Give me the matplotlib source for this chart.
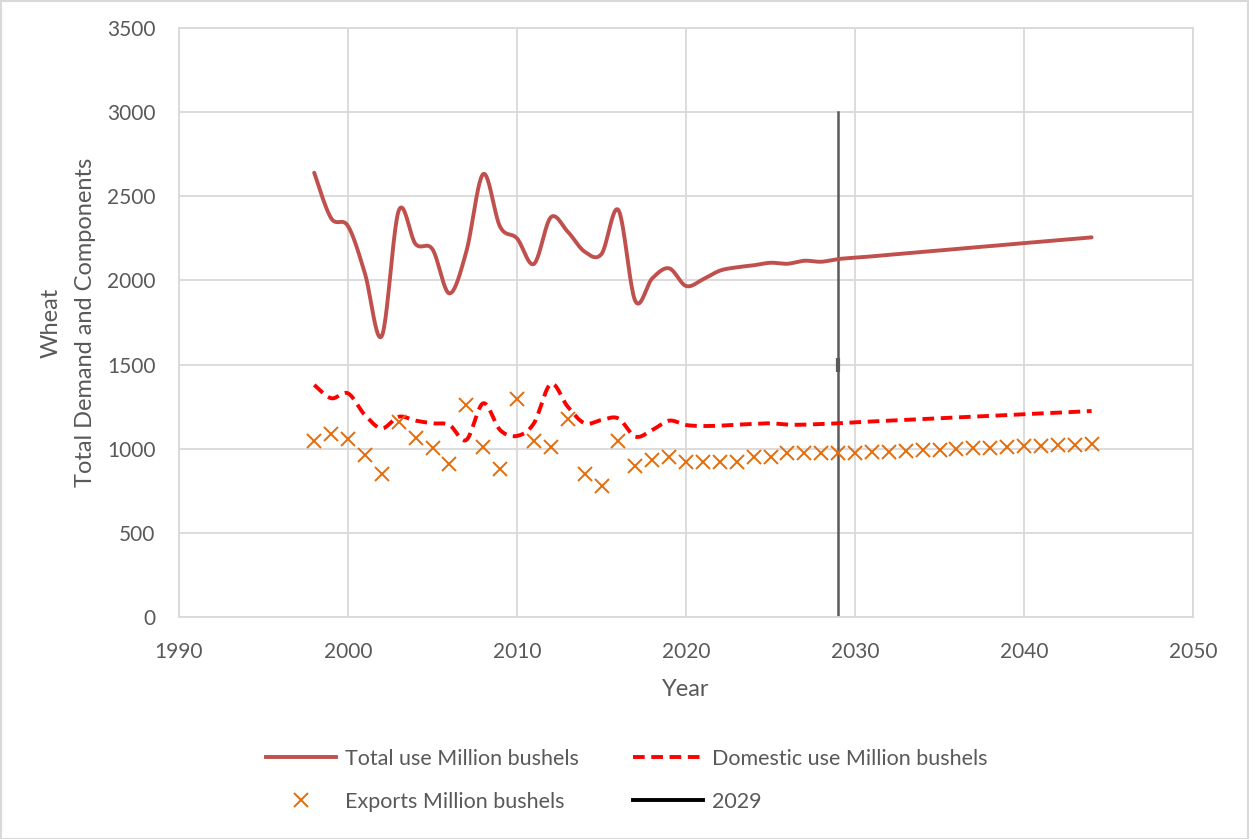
import matplotlib.pyplot as plt
import numpy as np
from matplotlib.lines import Line2D
from matplotlib.patches import Rectangle

plt.rcParams['font.family'] = ['Lato', 'DejaVu Sans']

years = list(range(1998, 2045))

total_use = [2640, 2370, 2323, 2042, 1670, 2414, 2216, 2185, 1923, 2171,
             2632, 2319, 2250, 2098, 2375, 2290, 2171, 2157, 2418, 1878,
             2012, 2072, 1967, 2006, 2058, 2078, 2090, 2105, 2099, 2117,
             2111, 2127, 2135, 2143, 2152, 2161, 2170, 2178, 2187, 2196,
             2204, 2213, 2222, 2230, 2239, 2247, 2256]

domestic_use = [1379, 1300, 1329, 1200, 1121, 1190, 1167, 1151, 1141, 1052,
                1270, 1111, 1076, 1151, 1385, 1250, 1151, 1171, 1180, 1072,
                1111, 1167, 1141, 1135, 1137, 1143, 1147, 1151, 1143, 1143,
                1147, 1151, 1157, 1162, 1167, 1172, 1176, 1181, 1186, 1191,
                1195, 1200, 1205, 1210, 1214, 1219, 1224]

exports = [1046, 1087, 1060, 963, 848, 1161, 1062, 1002, 907, 1260,
           1008, 878, 1294, 1048, 1008, 1175, 850, 778, 1048, 897,
           933, 949, 921, 921, 921, 921, 949, 949, 973, 973,
           973, 973, 975, 979, 982, 986, 990, 994, 998, 1002,
           1006, 1010, 1014, 1018, 1021, 1025, 1028]

marker_year = 2029
marker_span = [0, 1500, 3000]

x_ticks = [1990, 2000, 2010, 2020, 2030, 2040, 2050]
y_ticks = [0, 500, 1000, 1500, 2000, 2500, 3000, 3500]

TEXT = '#595959'
GRID = '#D9D9D9'


def smooth(x, y, steps=24):
    '''
    spreadsheet-style smoothed line: Catmull-Rom segments as cubic Beziers
    '''
    p = np.column_stack([x, y]).astype(float)
    p = np.vstack([p[0], p, p[-1]])
    t = np.linspace(0, 1, steps)[:, None]
    out = []
    for i in range(1, len(p) - 2):
        p0, p3 = p[i], p[i + 1]
        c1 = p0 + (p[i + 1] - p[i - 1]) / 6
        c2 = p3 - (p[i + 2] - p[i]) / 6
        seg = ((1 - t) ** 3) * p0 + 3 * ((1 - t) ** 2) * t * c1 \
            + 3 * (1 - t) * t ** 2 * c2 + t ** 3 * p3
        out.append(seg if i == 1 else seg[1:])
    out = np.vstack(out)
    return out[:, 0], out[:, 1]


fig = plt.figure(figsize=(12.49, 8.39), dpi=100)
ax = fig.add_axes([179 / 1249, 1 - 617 / 839, 1014 / 1249, 589 / 839])

sx, sy = smooth(years, total_use)
ax.plot(sx, sy, color='#C0504D', lw=2.8, solid_capstyle='round', zorder=3)

sx, sy = smooth(years, domestic_use)
ax.plot(sx, sy, color='#FF0000', lw=2.8, dashes=(3.0, 1.7), zorder=3)

ax.plot(years, exports, linestyle='none', marker='x', ms=10.5, mew=1.4,
        color='#E46C0A', zorder=4)

ax.plot([marker_year] * len(marker_span), marker_span, color='#5A5A5A',
        lw=1.8, marker='|', markevery=[1], ms=10, mew=3.0, zorder=2)

ax.set_xlim(1990, 2050)
ax.set_ylim(0, 3500)
ax.set_xticks(x_ticks)
ax.set_yticks(y_ticks)
ax.grid(True, color=GRID, lw=1.3)
ax.set_axisbelow(True)
for sp in ax.spines.values():
    sp.set_color(GRID)
    sp.set_linewidth(1.3)
ax.tick_params(length=0, labelsize=15, labelcolor=TEXT)
ax.tick_params(axis='y', pad=17)
ax.tick_params(axis='x', pad=18)

ax.set_xlabel('Year', fontsize=17, color=TEXT)
ax.xaxis.set_label_coords(0.5, -(690 - 617) / 589)
ax.xaxis.label.set_va('center')
ax.set_ylabel('Wheat\nTotal Demand and Components', fontsize=17,
              color=TEXT, linespacing=1.8)
ax.yaxis.set_label_coords(-(179 - 68) / 1014, 0.5)
ax.yaxis.label.set_va('center')

handles = [
    Line2D([], [], color='#C0504D', lw=2.8),
    Line2D([], [], linestyle='none', marker='x', ms=10.5, mew=1.4,
           color='#E46C0A'),
    Line2D([], [], color='#FF0000', lw=2.8, dashes=(3.0, 1.7)),
    Line2D([], [], color='black', lw=2.8),
]
labels = ['Total use Million bushels', 'Exports Million bushels',
          'Domestic use Million bushels', '2029']
leg = fig.legend(handles, labels, ncol=2, loc='upper left',
                 bbox_to_anchor=(266 / 1249, 1 - 749 / 839),
                 bbox_transform=fig.transFigure, frameon=False,
                 fontsize=15.5, handlelength=3.25, handletextpad=0.42,
                 columnspacing=2.5, labelspacing=1.05, borderpad=0,
                 borderaxespad=0)
for t in leg.get_texts():
    t.set_color(TEXT)

# thin frame round the whole chart
fig.patches.append(Rectangle((0.5 / 1249, 0.5 / 839), 1 - 1.5 / 1249,
                             1 - 1.5 / 839, transform=fig.transFigure,
                             fill=False, edgecolor=GRID, lw=1.5))

fig.savefig('out.png', dpi=100)
